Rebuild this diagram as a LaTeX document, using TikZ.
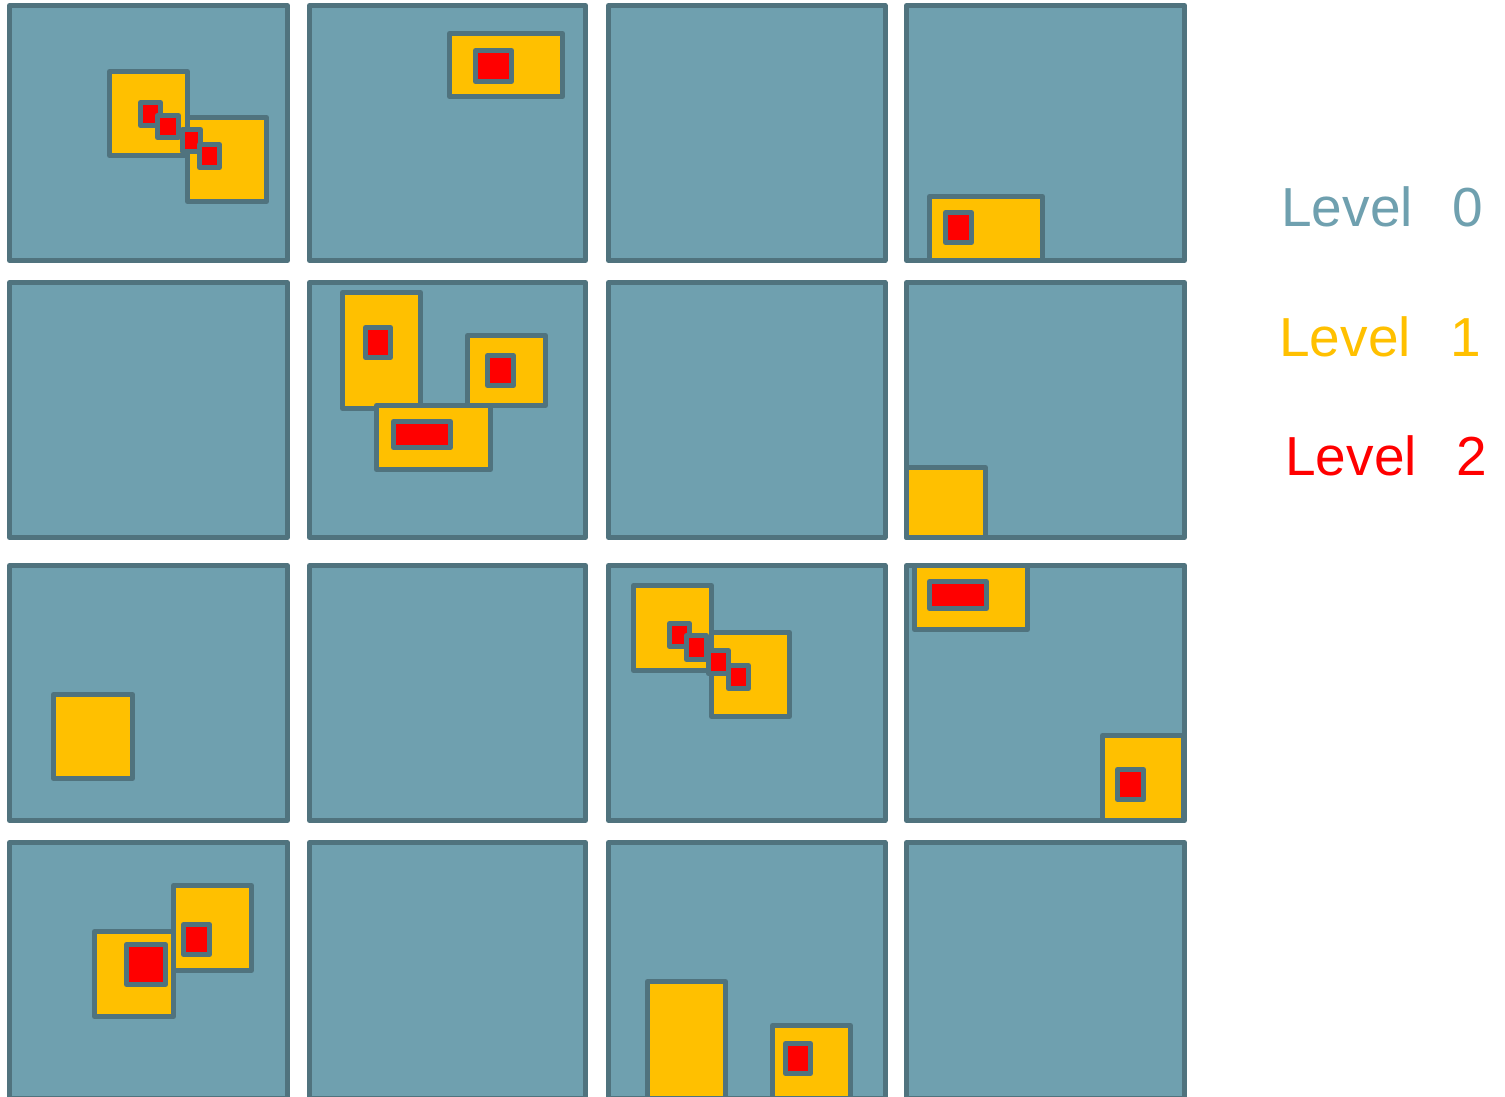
\documentclass[tikz,border=0pt]{standalone}
\usepackage{fontspec}
\setmainfont{Liberation Sans}
\usepackage{tikz}
\definecolor{cellblue}{HTML}{6FA0AF}
\definecolor{edgegray}{HTML}{50737E}
\definecolor{levelyellow}{HTML}{FFC000}
\definecolor{levelred}{HTML}{FF0000}

\begin{document}
\begin{tikzpicture}[x=0.5pt,y=-0.5pt,
  box/.style={draw=edgegray,line width=2.5pt,line join=round},
  lvlzero/.style={box,fill=cellblue},
  lvlone/.style={box,fill=levelyellow},
  lvltwo/.style={box,fill=levelred},
  legend/.style={anchor=base west,inner sep=0pt,font=\fontsize{27.5}{33}\selectfont}]
\useasboundingbox (0,0) rectangle (1505,1097);
\clip (0,0) rectangle (1505,1097);
% level 0 grid
\foreach \xa/\xb in {9.5/287.5,309.5/585.5,608.5/885,906.5/1184.5}
  \foreach \ya/\yb in {5.5/260.5,282.5/537.5,565.5/820.5,842.5/1098}
    \draw[lvlzero] (\xa,\ya) rectangle (\xb,\yb);
% row 1
\draw[lvlone] (109.5,71.5) rectangle (187.5,155.5);
\draw[lvlone] (187.5,117.5) rectangle (266.5,201.5);
\draw[lvltwo] (140.5,102.5) rectangle (160.5,125.5);
\draw[lvltwo] (157.5,115.5) rectangle (178.5,137.5);
\draw[lvltwo] (182.5,129.5) rectangle (200.5,151.5);
\draw[lvltwo] (199.5,144.5) rectangle (219.5,167.5);
\draw[lvlone] (449.5,33.5) rectangle (562.5,96.5);
\draw[lvltwo] (475.5,50.5) rectangle (511.5,81.5);
\draw[lvlone] (929.5,196.5) rectangle (1042.5,260.5);
\draw[lvltwo] (945.5,212.5) rectangle (971.5,242.5);
% row 2
\draw[lvlone] (342.5,292.5) rectangle (420.5,408.5);
\draw[lvltwo] (365.5,327.5) rectangle (390.5,357.5);
\draw[lvlone] (467.5,335.5) rectangle (545.5,405.5);
\draw[lvltwo] (487.5,355.5) rectangle (513.5,385.5);
\draw[lvlone] (376.5,405.5) rectangle (490.5,469.5);
\draw[lvltwo] (393.5,421.5) rectangle (450.5,447.5);
\draw[lvlone] (906.5,467.5) rectangle (985.5,537.5);
% row 3
\draw[lvlone] (53.5,694.5) rectangle (132.5,778.5);
\draw[lvlone] (633.5,585.5) rectangle (711.5,670.5);
\draw[lvlone] (711.5,632.5) rectangle (789.5,716.5);
\draw[lvltwo] (669.5,623.5) rectangle (689.5,646.5);
\draw[lvltwo] (686.5,635.5) rectangle (706.5,659.5);
\draw[lvltwo] (708.5,650.5) rectangle (728.5,673.5);
\draw[lvltwo] (728.5,665.5) rectangle (748.5,688.5);
\draw[lvlone] (914.5,565.5) rectangle (1027.5,629.5);
\draw[lvltwo] (929.5,581.5) rectangle (986.5,608.5);
\draw[lvlone] (1102.5,735.5) rectangle (1183.5,820.5);
\draw[lvltwo] (1117.5,769.5) rectangle (1143.5,799.5);
% row 4
\draw[lvlone] (94.5,931.5) rectangle (173.5,1016.5);
\draw[lvltwo] (126.5,944.5) rectangle (165.5,984.5);
\draw[lvlone] (173.5,885.5) rectangle (251.5,970.5);
\draw[lvltwo] (183.5,924.5) rectangle (209.5,954.5);
\draw[lvlone] (647.5,981.5) rectangle (725.5,1098);
\draw[lvlone] (772.5,1025.5) rectangle (850.5,1098);
\draw[lvltwo] (785.5,1043.5) rectangle (810.5,1073.5);
% legend
\node[legend,text=cellblue] (lvlzerolabel) at (1281,227) {Level\hspace{20pt}0};
\node[legend,text=levelyellow] (lvlonelabel) at (1279,356) {Level\hspace{20pt}1};
\node[legend,text=levelred] (lvltwolabel) at (1285,475) {Level\hspace{20pt}2};
\end{tikzpicture}
\end{document}
